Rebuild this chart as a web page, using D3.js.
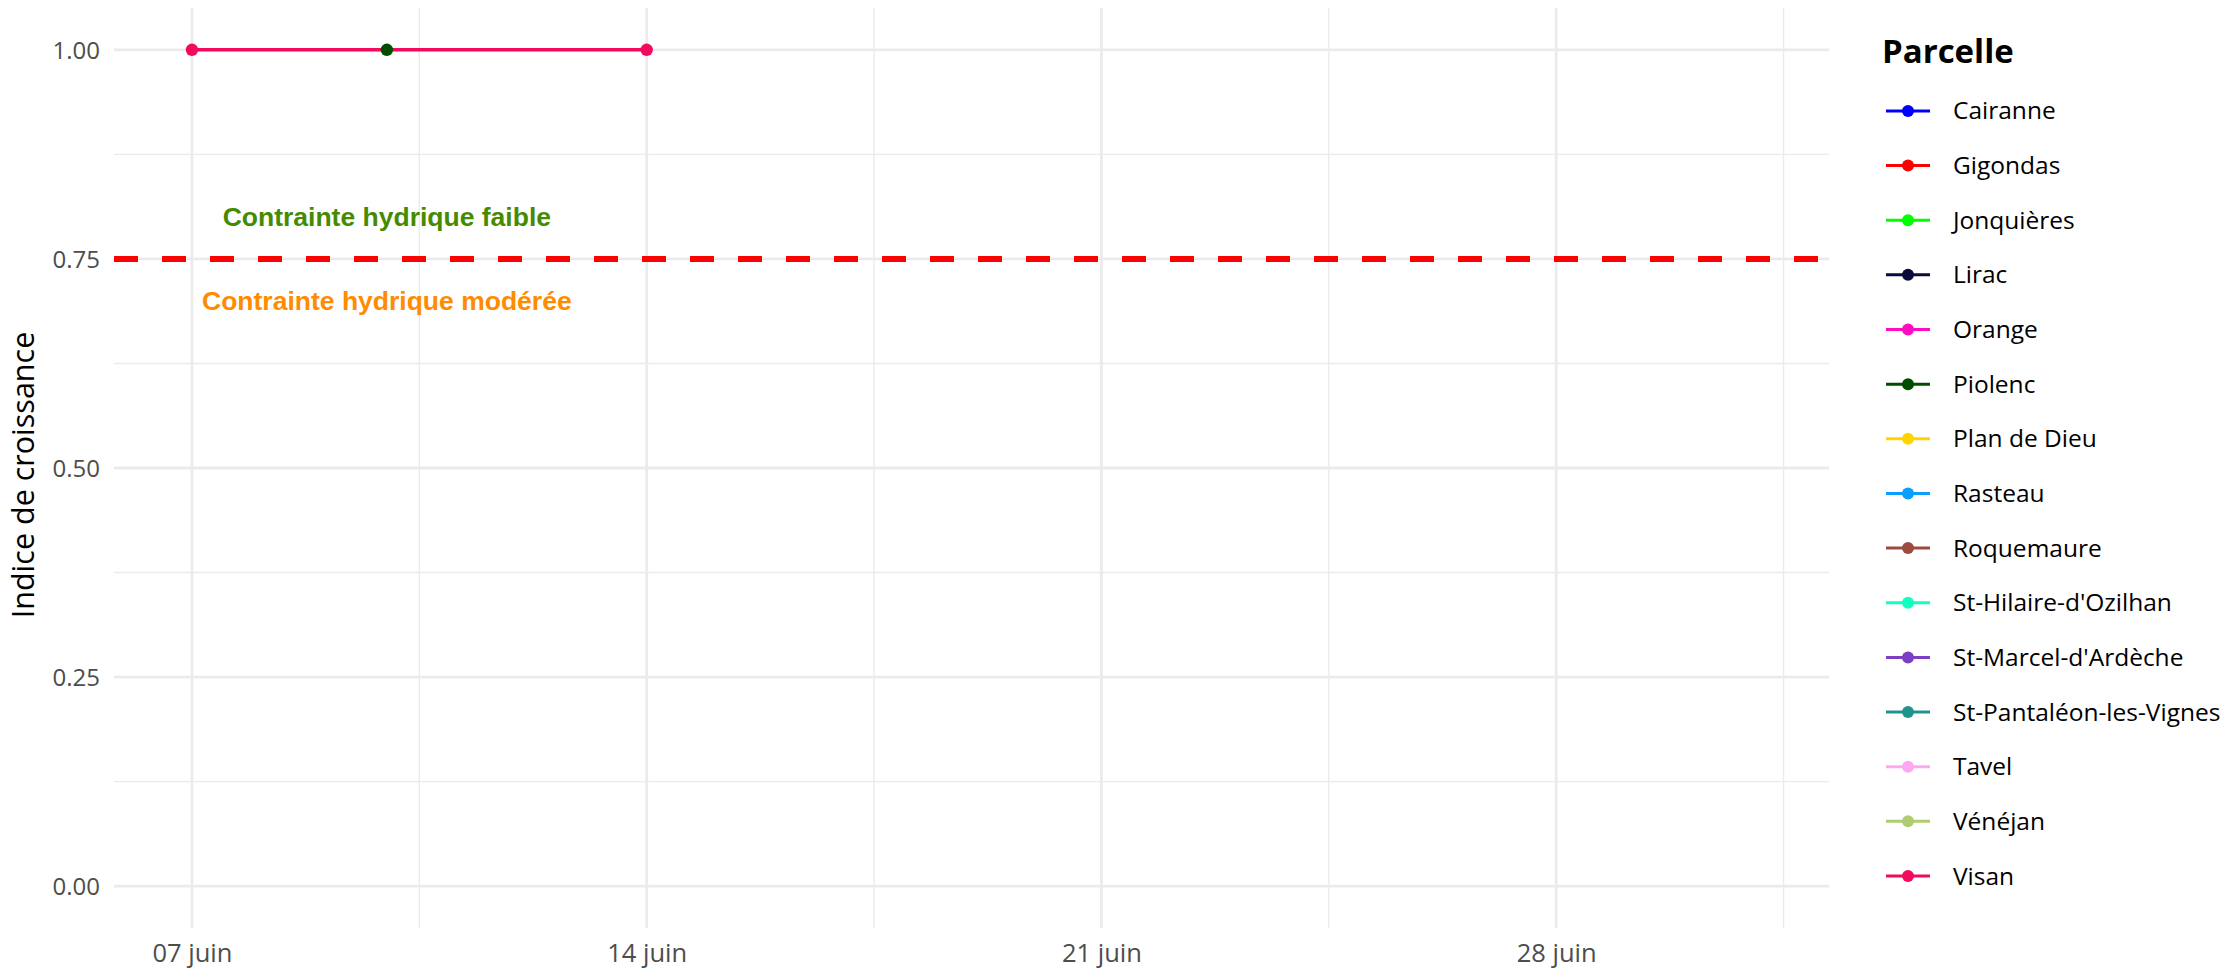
<!DOCTYPE html>
<html>
<head>
<meta charset="utf-8">
<script src="https://cdn.jsdelivr.net/npm/d3@7"></script>
<style>
  html, body { margin: 0; padding: 0; background: #ffffff; }
  svg { display: block; }
</style>
</head>
<body>
<svg id="chart" width="2230" height="971"></svg>
<script>
// ---------------- DATA ----------------
const parcelles = ["Cairanne", "Gigondas", "Jonquières", "Lirac", "Orange", "Piolenc",
  "Plan de Dieu", "Rasteau", "Roquemaure", "St-Hilaire-d'Ozilhan", "St-Marcel-d'Ardèche",
  "St-Pantaléon-les-Vignes", "Tavel", "Vénéjan", "Visan"];
const couleurs = ["#0000FF", "#FF0000", "#00FF00", "#0B0B3B", "#FF0DC2", "#004D00",
  "#FFD500", "#0A9EFF", "#9E4B3F", "#12FFC2", "#7B3FC4", "#1F948F", "#FFA8F2", "#B0CC70", "#F20A5C"];

// series actually present in the plot
const visanDates = ["2024-06-07", "2024-06-14"];
const visanValues = [1, 1];
const piolencDates = ["2024-06-10"];
const piolencValues = [1];

const xLimits = ["2024-06-07", "2024-07-01"];
const xTickDates = ["2024-06-07", "2024-06-14", "2024-06-21", "2024-06-28"];
const xTickLabels = ["07 juin", "14 juin", "21 juin", "28 juin"];
const yTicks = [0, 0.25, 0.5, 0.75, 1];
const yTickLabels = ["0.00", "0.25", "0.50", "0.75", "1.00"];
const yLimits = [0, 1];

const seuil = 0.75;
const annotations = [
  { date: "2024-06-10", value: 0.80, text: "Contrainte hydrique faible", color: "#458B00" },
  { date: "2024-06-10", value: 0.70, text: "Contrainte hydrique modérée", color: "#FF8C00" }
];

// ---------------- LAYOUT ----------------
const parse = d3.timeParse("%Y-%m-%d");
const panel = { left: 114, right: 1829, top: 8, bottom: 928 };
const svg = d3.select("#chart");
const uiFont = "'Open Sans', 'Noto Sans', sans-serif";

const xl = xLimits.map(parse);
const span = xl[1] - xl[0];
const x = d3.scaleTime()
  .domain([new Date(+xl[0] - span * 0.05), new Date(+xl[1] + span * 0.05)])
  .range([panel.left, panel.right]);
const ySpan = yLimits[1] - yLimits[0];
const y = d3.scaleLinear()
  .domain([yLimits[0] - ySpan * 0.05, yLimits[1] + ySpan * 0.05])
  .range([panel.bottom, panel.top]);

const color = d3.scaleOrdinal().domain(parcelles).range(couleurs);

// grid
const grid = svg.append("g");
const xMajor = xTickDates.map(parse);
const xMinor = [];
for (let i = 0; i < xMajor.length; i++) {
  const a = +xMajor[i], b = i + 1 < xMajor.length ? +xMajor[i + 1] : +xMajor[i] + (+xMajor[1] - +xMajor[0]);
  const m = new Date((a + b) / 2);
  if (m >= x.domain()[0] && m <= x.domain()[1]) xMinor.push(m);
}
const yMinor = [];
for (let i = 0; i + 1 < yTicks.length; i++) yMinor.push((yTicks[i] + yTicks[i + 1]) / 2);

grid.selectAll("line.ymin").data(yMinor).join("line")
  .attr("x1", panel.left).attr("x2", panel.right)
  .attr("y1", d => y(d)).attr("y2", d => y(d))
  .attr("stroke", "#EBEBEB").attr("stroke-width", 1.4);
grid.selectAll("line.xmin").data(xMinor).join("line")
  .attr("y1", panel.top).attr("y2", panel.bottom)
  .attr("x1", d => x(d)).attr("x2", d => x(d))
  .attr("stroke", "#EBEBEB").attr("stroke-width", 1.4);
grid.selectAll("line.ymaj").data(yTicks).join("line")
  .attr("x1", panel.left).attr("x2", panel.right)
  .attr("y1", d => y(d)).attr("y2", d => y(d))
  .attr("stroke", "#EBEBEB").attr("stroke-width", 2.8);
grid.selectAll("line.xmaj").data(xMajor).join("line")
  .attr("y1", panel.top).attr("y2", panel.bottom)
  .attr("x1", d => x(d)).attr("x2", d => x(d))
  .attr("stroke", "#EBEBEB").attr("stroke-width", 2.8);

// axes (ticks/labels via d3 axes, no domain/tick lines)
const xAxis = d3.axisBottom(x).tickValues(xMajor)
  .tickFormat((d, i) => xTickLabels[i]).tickSize(0).tickPadding(0);
const gx = svg.append("g").attr("transform", `translate(0, ${panel.bottom})`).call(xAxis);
gx.select(".domain").remove();
gx.selectAll("text").attr("y", 34).attr("dy", 0)
  .attr("fill", "#4D4D4D").style("font-family", uiFont).style("font-size", "25.5px");

const yAxis = d3.axisLeft(y).tickValues(yTicks)
  .tickFormat((d, i) => yTickLabels[i]).tickSize(0).tickPadding(0);
const gy = svg.append("g").attr("transform", `translate(${panel.left - 14}, 0)`).call(yAxis);
gy.select(".domain").remove();
gy.selectAll("text").attr("x", 0).attr("dy", "0.35em")
  .attr("fill", "#4D4D4D").style("font-family", uiFont).style("font-size", "24px");

// y axis title
svg.append("text")
  .attr("transform", `translate(34, ${(panel.top + panel.bottom) / 2 + 7}) rotate(-90)`)
  .attr("text-anchor", "middle")
  .style("font-family", uiFont).style("font-size", "30.5px").attr("fill", "#000")
  .text("Indice de croissance");

// lines
const line = d3.line().x(d => x(d.date)).y(d => y(d.value));
const series = [
  { name: "Piolenc", pts: piolencDates.map((d, i) => ({ date: parse(d), value: piolencValues[i] })) },
  { name: "Visan", pts: visanDates.map((d, i) => ({ date: parse(d), value: visanValues[i] })) }
];
svg.append("g").selectAll("path").data(series.filter(s => s.pts.length > 1)).join("path")
  .attr("d", s => line(s.pts)).attr("fill", "none")
  .attr("stroke", s => color(s.name)).attr("stroke-width", 3.6);

// threshold
svg.append("line")
  .attr("x1", panel.left).attr("x2", panel.right)
  .attr("y1", y(seuil)).attr("y2", y(seuil))
  .attr("stroke", "#FF0000").attr("stroke-width", 6).attr("stroke-dasharray", "24,24");

// points
const pg = svg.append("g");
series.forEach(s => {
  pg.selectAll(null).data(s.pts).join("circle")
    .attr("cx", d => x(d.date)).attr("cy", d => y(d.value)).attr("r", 6.2)
    .attr("fill", color(s.name));
});

// annotations
svg.append("g").selectAll("text").data(annotations).join("text")
  .attr("x", d => x(parse(d.date))).attr("y", d => y(d.value))
  .attr("dy", "0.35em").attr("text-anchor", "middle")
  .style("font-family", "'Liberation Sans', Arial, sans-serif").style("font-weight", "bold")
  .style("font-size", "26.5px").attr("fill", d => d.color)
  .text(d => d.text);

// legend
const lg = svg.append("g");
lg.append("text").attr("x", 1882).attr("y", 63)
  .style("font-family", uiFont).style("font-weight", "bold").style("font-size", "33px")
  .attr("fill", "#000").text("Parcelle");
const ly = d3.scalePoint().domain(parcelles).range([110.9, 110.9 + 54.65 * (parcelles.length - 1)]);
const items = lg.selectAll("g.item").data(parcelles).join("g")
  .attr("transform", d => `translate(0, ${ly(d)})`);
items.append("line").attr("x1", 1886).attr("x2", 1930).attr("y1", 0).attr("y2", 0)
  .attr("stroke", d => color(d)).attr("stroke-width", 3);
items.append("circle").attr("cx", 1908).attr("cy", 0).attr("r", 6)
  .attr("fill", d => color(d));
items.append("text").attr("x", 1953).attr("y", 0).attr("dy", "0.35em")
  .style("font-family", uiFont).style("font-size", "24.5px").attr("fill", "#000")
  .text(d => d);
</script>
</body>
</html>
